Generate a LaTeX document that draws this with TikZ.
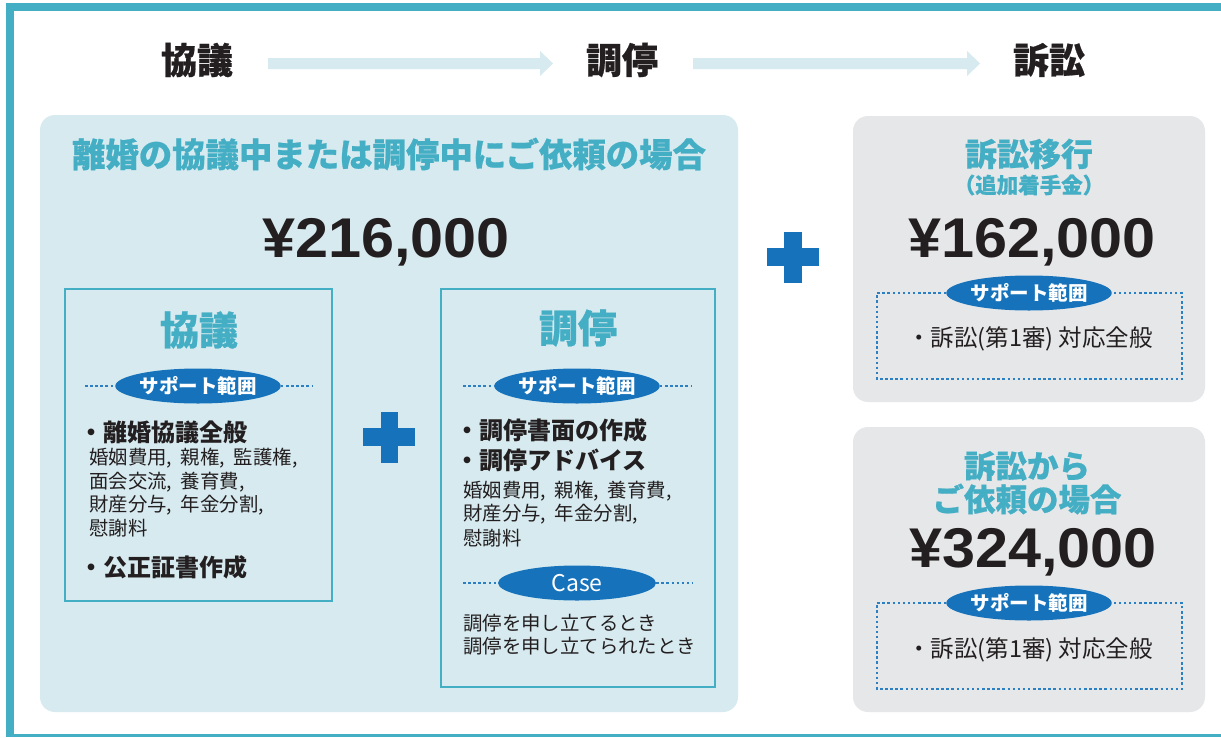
\documentclass[tikz,border=0pt]{standalone}
\usepackage{fontspec}
\newfontfamily\jp{Noto Sans CJK JP}
\newfontfamily\jpx[BoldFeatures={FakeBold=0.6}]{Noto Sans CJK JP}
\newfontfamily\numf[FakeStretch=1.06]{Liberation Sans}
\usetikzlibrary{shapes.geometric}
\definecolor{tealc}{HTML}{44AEC4}
\definecolor{lightbox}{HTML}{D7EAEF}
\definecolor{grayboxc}{HTML}{E6E7E9}
\definecolor{bluec}{HTML}{1673BB}
\definecolor{dotc}{HTML}{2B80C4}
\definecolor{txt}{HTML}{231F20}
\newcommand\fsz[1]{\fontsize{#1}{#1}\selectfont}
\newcommand\cmsep{,\hspace{0.45em}}
\begin{document}
\begin{tikzpicture}[x=1pt,y=-1pt,
  hdr/.style={font=\jpx\bfseries\fsz{36}, text=txt, inner sep=0},
  ttl/.style={font=\jpx\bfseries\fsz{#1}, text=tealc, inner sep=0},
  price/.style={font=\numf\bfseries\fsz{56}, text=txt, inner sep=0, anchor=base},
  innerbox/.style={draw=tealc, line width=2.5pt, fill=lightbox},
  oval/.style={ellipse, fill=bluec, minimum width=158pt, minimum height=35pt, inner sep=0, text=white, font=\jp\bfseries\fsz{19.5}},
  dotline/.style={draw=dotc, line width=2.6pt, dash pattern=on 2.5pt off 2.6pt},
  bul/.style={font=\jp\bfseries\fsz{24}, anchor=west, inner sep=0, text=txt},
  sm/.style={font=\jp\fsz{19.4}, anchor=west, inner sep=0, text=txt},
  rng/.style={font=\jp\fsz{23.5}, inner sep=0, text=txt},
  hdrarrow/.style={fill=lightbox},
  plusc/.style={fill=bluec}
]
\useasboundingbox (0,0) rectangle (1221,737);
\fill[white] (0,0) rectangle (1221,737);
% frame
\fill[tealc] (6,3) rectangle (1221,11);
\fill[tealc] (6,3) rectangle (14,737);
\fill[tealc] (6,734.3) rectangle (1221,737);

% header
\node[hdr] (h1) at (197,60) {協議};
\node[hdr] (h2) at (622,60) {調停};
\node[hdr] (h3) at (1049,60) {訴訟};
\fill[hdrarrow] (268,58) -- (540,58) -- (540,51) -- (553,63.5) -- (540,76) -- (540,69) -- (268,69) -- cycle;
\fill[hdrarrow] (693,58) -- (967,58) -- (967,51) -- (980,63.5) -- (967,76) -- (967,69) -- (693,69) -- cycle;

% big left box
\fill[lightbox, rounded corners=15pt] (40,115) rectangle (738,712);
\node[ttl=33.4] (t1) at (389,154) {離婚の協議中または調停中にご依頼の場合};
\node[price] (p1) at (386,257) {¥216,000};

% inner box 1
\draw[innerbox] (65,289) rectangle (332,601);
\node[ttl=39] (k1) at (199,330) {協議};
\node[oval] (o1) at (198,386) {サポート範囲};
\coordinate (d1l) at (85,386); \coordinate (d1r) at (313,386);
\draw[dotline] (d1l) -- (o1.west);
\draw[dotline] (o1.east) -- (d1r);
\node[bul] (b11) at (79,432) {・離婚協議全般};
\node[sm] (s11) at (89,458.5) {婚姻費用\cmsep 親権\cmsep 監護権,};
\node[sm] (s12) at (89,481.8) {面会交流\cmsep 養育費,};
\node[sm] (s13) at (89,505) {財産分与\cmsep 年金分割,};
\node[sm] (s14) at (89,528.3) {慰謝料};
\node[bul] (b12) at (79,567) {・公正証書作成};

% plus 1
\fill[plusc] (363,428) rectangle (415,446);
\fill[plusc] (381,412) rectangle (398,463);

% inner box 2
\draw[innerbox] (441,289) rectangle (715,687);
\node[ttl=39] (k2) at (578,328) {調停};
\node[oval] (o2) at (577,386) {サポート範囲};
\coordinate (d2l) at (463,386); \coordinate (d2r) at (692,386);
\draw[dotline] (d2l) -- (o2.west);
\draw[dotline] (o2.east) -- (d2r);
\node[bul] (b21) at (455,430) {・調停書面の作成};
\node[bul] (b22) at (455,460) {・調停アドバイス};
\node[sm] (s21) at (463,491) {婚姻費用\cmsep 親権\cmsep 養育費,};
\node[sm] (s22) at (463,514.5) {財産分与\cmsep 年金分割,};
\node[sm] (s23) at (463,538) {慰謝料};
\node[oval, font=\jp\fsz{23}] (o3) at (577,583) {Case};
\coordinate (d3l) at (463,583); \coordinate (d3r) at (692,583);
\draw[dotline] (d3l) -- (o3.west);
\draw[dotline] (o3.east) -- (d3r);
\node[sm] (c1) at (463,623) {調停を申し立てるとき};
\node[sm] (c2) at (463,646) {調停を申し立てられたとき};

% plus 2
\fill[plusc] (767,248) rectangle (819,266);
\fill[plusc] (784,232) rectangle (802,283);

% gray box 1
\fill[grayboxc, rounded corners=15pt] (853,116) rectangle (1205,402);
\node[ttl=32] (g1t) at (1029,154) {訴訟移行};
\node[ttl=21.5] (g1s) at (1029,185) {（追加着手金）};
\node[price] (p2) at (1032,257) {¥162,000};
\node[oval] (o4) at (1029,293) {サポート範囲};
\draw[dotline] (o4.west) -- (877,293) -- (877,379) -- (1182,379) -- (1182,293) -- (o4.east);
\node[rng] (r1) at (1030,339) {・訴訟(第1審) 対応全般};

% gray box 2
\fill[grayboxc, rounded corners=15pt] (853,427) rectangle (1205,712);
\node[ttl=31.5] (g2a) at (1027,466) {訴訟から};
\node[ttl=31.5] (g2b) at (1027,499) {ご依頼の場合};
\node[price] (p3) at (1033,567) {¥324,000};
\node[oval] (o5) at (1029,603) {サポート範囲};
\draw[dotline] (o5.west) -- (877,603) -- (877,689) -- (1182,689) -- (1182,603) -- (o5.east);
\node[rng] (r2) at (1030,650) {・訴訟(第1審) 対応全般};
\end{tikzpicture}
\end{document}
